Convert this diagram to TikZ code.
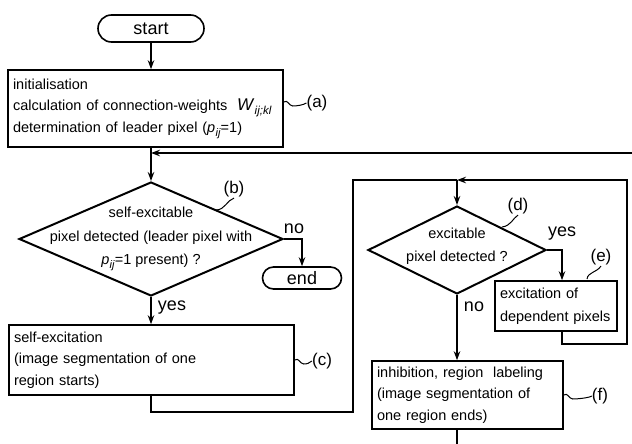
\documentclass[tikz,border=0pt]{standalone}
\usepackage{fontspec}
\setmainfont{Liberation Sans}
\usetikzlibrary{shapes.geometric,arrows.meta}
\newcommand{\pij}{\textit{p}\kern0.3pt\raisebox{-0.5ex}{\fontsize{11}{11}\selectfont\textit{ij}}}
\newcommand{\Wijkl}{{\fontsize{17}{17}\selectfont\textit{W}}\kern0.3pt\raisebox{-0.55ex}{\fontsize{11.5}{11.5}\selectfont\textit{ij;kl}}}
\begin{document}
\begin{tikzpicture}[x=1pt,y=-1pt,
  every node/.style={font=\fontsize{14.5}{21.5}\selectfont},
  box/.style={draw, line width=1.6pt, inner xsep=5pt, inner ysep=0pt, align=left},
  term/.style={draw, line width=1.6pt, inner sep=0pt, font=\fontsize{18}{18}\selectfont},
  dia/.style={draw, diamond, line width=2pt, inner sep=0pt},
  conn/.style={line width=1.3pt},
  arr/.style={conn, -{Stealth[length=9pt,width=6.5pt]}},
  lbl/.style={font=\fontsize{17}{17}\selectfont, inner sep=0pt},
  yn/.style={font=\fontsize{18}{18}\selectfont, inner sep=0pt},
  tip/.style={line width=1pt},
]
\useasboundingbox (0,0) rectangle (632,444);

% terminals
\node[term, rounded corners=13.5pt, minimum width=106pt, minimum height=27pt] (start) at (151,28.5) {start};
\node[term, rounded corners=11pt, minimum width=79pt, minimum height=22pt] (end) at (302,278) {end};

% boxes
\node[box, text width=265pt, minimum height=77pt] (init) at (145.5,108.5)
  {initialisation\\calculation of connection-weights\ \ \Wijkl\\determination of leader pixel (\pij=1)};
\node[box, text width=275pt, minimum height=70pt] (c) at (151.5,360)
  {self-excitation\\(image segmentation of one\\region starts)};
\node[box, text width=112pt, minimum height=50pt, font=\fontsize{14.5}{23}\selectfont] (e) at (556,306)
  {excitation of\\dependent pixels};
\node[box, text width=181pt, minimum height=68pt] (f) at (467.5,395)
  {inhibition, region\ \ labeling\\(image segmentation of\\one region ends)};

% diamonds
\node[dia, minimum width=264pt, minimum height=114pt] (b) at (151,239) {};
\node[align=center, font=\fontsize{14.5}{23.5}\selectfont] (btext) at (151,239)
  {self-excitable\\pixel detected (leader pixel with\\\pij=1 present) ?};
\node[dia, minimum width=178pt, minimum height=88pt] (d) at (457,250) {};
\node[align=center, font=\fontsize{14.5}{23.5}\selectfont] (dtext) at (457,246)
  {excitable\\pixel detected ?};

% yes / no
\node[yn] (no1) at (294,229) {no};
\node[yn] (yes1) at (172,308) {yes};
\node[yn] (yes2) at (562,234) {yes};
\node[yn] (no2) at (474,307) {no};

% side labels
\node[lbl] (la) at (317,103) {(a)};
\node[lbl] (lb) at (234,189) {(b)};
\node[lbl] (lc) at (322,361) {(c)};
\node[lbl] (ld) at (518,206) {(d)};
\node[lbl] (le) at (601,257) {(e)};
\node[lbl] (lf) at (600,396) {(f)};

% label ticks
\draw[tip] (init.east |- la.west) ++(0,-1) .. controls +(4,-3) and +(-4,0) .. ++(9,4) .. controls +(4,0) and +(-3,2) .. (la.west);
\draw[tip] (c.east |- lc.west) ++(0,-1) .. controls +(4,-3) and +(-4,0) .. ++(9,4) .. controls +(4,0) and +(-3,2) .. (lc.west);
\draw[tip] (f.east |- lf.west) ++(0,-1) .. controls +(4,-3) and +(-4,0) .. ++(9,4) .. controls +(4,0) and +(-3,2) .. (lf.west);
\coordinate (bt) at (216,210);
\draw[tip] (bt) .. controls (225,210) and (227,200) .. ([yshift=-1pt]lb.south);
\coordinate (dt) at (502,227);
\draw[tip] (dt) .. controls (511,226) and (513,218) .. ([yshift=-1pt]ld.south);
\coordinate (et) at (587,279);
\draw[tip] (et) .. controls (588,272) and (596,273) .. ([yshift=-1pt]le.south);

% connectors main column
\draw[arr] (start.south) -- (start.south |- init.north);
\coordinate (m1) at (151,153);
\coordinate (fb) at (632,153);
\draw[conn] (151,147) -- (m1);
\draw[arr] (m1) -- (b.north);
\draw[arr] (fb) -- (m1);
\draw[arr] (b.east) -| (end.north);
\draw[arr] (b.south) -- (b.south |- c.north);

% loop from c
\coordinate (cl) at (151,412);
\coordinate (cr) at (353,412);
\coordinate (j1) at (353,180);
\coordinate (j2) at (457,180);
\draw[conn] (b.south |- c.south) -- (cl) -- (cr) -- (j1) -- (j2);

% right column
\draw[arr] (j2) -- (d.north);
\coordinate (eb) at (562,344);
\coordinate (er) at (627,344);
\coordinate (rt) at (627,180);
\draw[arr] ([xshift=6pt]e.south) -- (eb) -- (er) -- (rt) -- (j2);
\draw[arr] (d.east) -| ([xshift=6pt]e.north);
\draw[arr] (d.south) -- (d.south |- f.north);
\coordinate (fo) at (457,444);
\draw[conn] (d.south |- f.south) -- (fo);
\end{tikzpicture}
\end{document}
